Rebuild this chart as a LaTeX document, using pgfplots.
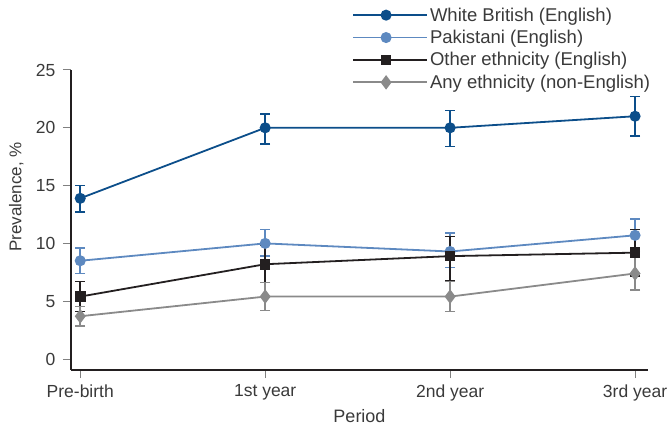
\documentclass[border=0pt]{standalone}
\usepackage{fontspec}
\setmainfont{Liberation Sans}
\usepackage{pgfplots}
\pgfplotsset{compat=1.18}
\definecolor{wb}{HTML}{0C4E8A}
\definecolor{pak}{HTML}{5D89C0}
\definecolor{oth}{HTML}{231F20}
\definecolor{anyc}{HTML}{8A8A8A}
\definecolor{txt}{HTML}{3A3A3A}
\begin{document}
\begin{tikzpicture}
\begin{axis}[
  scale only axis, width=577pt, height=300pt,
  xmin=-0.05, xmax=3.07, ymin=-0.95, ymax=25,
  axis x line=bottom, axis y line=left,
  axis line style={-, line width=1.8pt, color=oth},
  xtick={0,1,2,3}, xticklabels={Pre-birth,1st year,2nd year,3rd year},
  ytick={0,5,10,15,20,25},
  tick align=outside, major tick length=8pt,
  tick style={line width=1pt, color=gray},
  /pgf/number format/assume math mode=true,
  ticklabel style={font=\fontsize{17.5}{20}\selectfont, text=txt},
  yticklabel style={xshift=-4pt},
  xticklabel style={yshift=-3pt},
  xlabel={Period}, ylabel={Prevalence, \%},
  xlabel style={font=\fontsize{18}{20}\selectfont, text=txt, yshift=-2pt},
  ylabel style={font=\fontsize{17}{20}\selectfont, text=txt, at={(axis description cs:-0.095,0.577)}, anchor=center},
  legend style={draw=none, fill=none, at={(0.487,1.215)}, anchor=north west,
    font=\fontsize{18.5}{20}\selectfont, text=txt, row sep=3.5pt, inner sep=0pt},
  legend cell align=left,
  legend image code/.code={\path (0pt,0pt) -- (74pt,0pt);\draw[mark repeat=2,mark phase=2,#1] plot coordinates {(0pt,0pt) (33pt,0pt) (66pt,0pt)};},
  every axis plot/.append style={line width=1.8pt},
  error bars/error bar style={line width=1.5pt},
  error bars/error mark options={rotate=90, mark size=5pt, line width=1.5pt},
]
\addplot[color=wb, mark=*, mark size=4.6pt, error bars/.cd, y dir=both, y explicit]
  table[x=x, y=y, y error plus=ep, y error minus=em] {
x y ep em
0 13.9 1.1 1.2
1 20.0 1.2 1.4
2 20.0 1.5 1.6
3 21.0 1.7 1.7
};
\addlegendentry{White British (English)}
\addplot[color=pak, mark=*, mark size=4.6pt, error bars/.cd, y dir=both, y explicit]
  table[x=x, y=y, y error plus=ep, y error minus=em] {
x y ep em
0 8.5 1.1 1.1
1 10.0 1.2 1.1
2 9.3 1.6 1.4
3 10.7 1.4 1.4
};
\addlegendentry{Pakistani (English)}
\addplot[color=oth, mark=square*, mark size=4.4pt, error bars/.cd, y dir=both, y explicit]
  table[x=x, y=y, y error plus=ep, y error minus=em] {
x y ep em
0 5.4 1.3 1.3
1 8.2 1.6 1.6
2 8.9 1.7 2.1
3 9.2 2.0 2.0
};
\addlegendentry{Other ethnicity (English)}
\addplot[color=anyc, mark=diamond*, mark size=5.8pt, error bars/.cd, y dir=both, y explicit]
  table[x=x, y=y, y error plus=ep, y error minus=em] {
x y ep em
0 3.7 0.85 0.85
1 5.4 1.2 1.2
2 5.4 1.3 1.3
3 7.4 1.45 1.45
};
\addlegendentry{Any ethnicity (non-English)}
\end{axis}
\pgfresetboundingbox
\path[use as bounding box] (current axis.south west) ++(-71pt,-61pt) rectangle ++(667pt,431pt);
\end{tikzpicture}
\end{document}
